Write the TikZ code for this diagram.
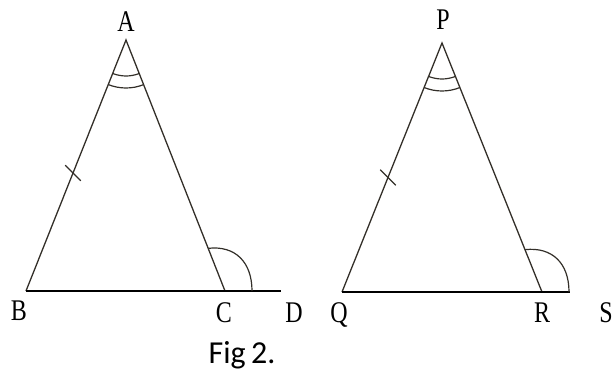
\documentclass[tikz,border=0pt]{standalone}
\usepackage{fontspec}
\setmainfont{Liberation Serif}
\newfontfamily\labfont{Liberation Serif}
\newfontfamily\figfont{Carlito}
\usetikzlibrary{angles,calc}
\begin{document}
\begin{tikzpicture}[x=1pt,y=1pt,
  side/.style={line width=1.3pt,black!85!olive},
  base/.style={line width=1.5pt,black},
  angmark/.style={draw,line width=1.2pt,black!85!olive},
  lab/.style={font=\labfont\fontsize{30}{30}\selectfont,inner sep=0pt,xscale=0.8}]
\useasboundingbox (0,0) rectangle (616,372);
% triangle 1
\coordinate (A) at (126,332);
\coordinate (B) at (26,81);
\coordinate (C) at (225,81);
\coordinate (D) at (281,81);
\draw[side] (B) -- (A) -- (C);
\draw[base] (B) -- (D);
\pic[angmark,angle radius=36pt] {angle=B--A--C};
\pic[angmark,angle radius=48pt] {angle=B--A--C};
\coordinate (c1) at ($(C)!0.17!(A)$);
\draw[angmark] (c1) .. controls ($(c1)+(27,3)$) and ($(C)+(27,29)$) .. ($(C)+(27,0)$);
\draw[angmark] ($(B)!0.47!(A)$) ++(135:11) -- ++(-45:22);
% triangle 2
\coordinate (P) at (442,329);
\coordinate (Q) at (342,80);
\coordinate (R) at (542,80);
\coordinate (S) at (570,80);
\draw[side] (Q) -- (P) -- (R);
\draw[base] (Q) -- (S);
\pic[angmark,angle radius=36pt] {angle=Q--P--R};
\pic[angmark,angle radius=48pt] {angle=Q--P--R};
\coordinate (r1) at ($(R)!0.17!(P)$);
\draw[angmark] (r1) .. controls ($(r1)+(27,3)$) and ($(R)+(27,29)$) .. ($(R)+(27,0)$);
\draw[angmark] ($(Q)!0.46!(P)$) ++(135:11) -- ++(-45:22);
% labels
\node[lab] (lA) at (126,350) {A};
\node[lab] (lB) at (19,61) {B};
\node[lab] (lC) at (224,59) {C};
\node[lab] (lD) at (294,59) {D};
\node[lab] (lP) at (443,352) {P};
\node[lab] (lQ) at (339,57) {Q};
\node[lab] (lR) at (542,59) {R};
\node[lab] (lS) at (606,59) {S};
\node[font=\figfont\fontsize{32}{32}\selectfont,inner sep=0pt,anchor=base] (fig) at (242,8) {Fig\,2.};
\end{tikzpicture}
\end{document}
